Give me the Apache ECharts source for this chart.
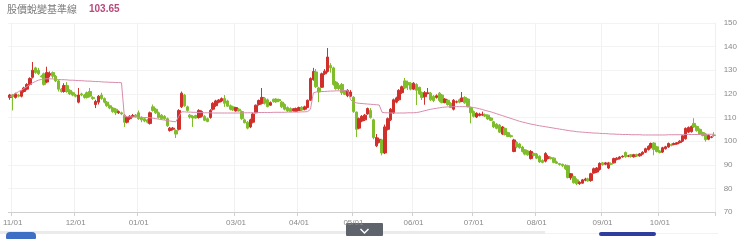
<!DOCTYPE html>
<html>
<head>
<meta charset="utf-8">
<script src="https://cdn.jsdelivr.net/npm/echarts@6/dist/echarts.min.js"></script>
<style>
html,body{margin:0;padding:0;background:#fff;}
#chart{width:740px;height:246px;}
</style>
</head>
<body>
<div id="chart"></div>
<script>
// ---------------- DATA ----------------
const titleText = '股價蛻變基準線';
const latestValue = '103.65';

const dates = [
'2023/10/31',
'2023/11/01','2023/11/02','2023/11/03','2023/11/06','2023/11/07','2023/11/08','2023/11/09','2023/11/10','2023/11/13','2023/11/14','2023/11/15','2023/11/16','2023/11/17','2023/11/20','2023/11/21','2023/11/22','2023/11/23','2023/11/24','2023/11/27','2023/11/28','2023/11/29','2023/11/30',
'2023/12/01','2023/12/04','2023/12/05','2023/12/06','2023/12/07','2023/12/08','2023/12/11','2023/12/12','2023/12/13','2023/12/14','2023/12/15','2023/12/18','2023/12/19','2023/12/20','2023/12/21','2023/12/22','2023/12/23','2023/12/25','2023/12/26','2023/12/27','2023/12/28','2023/12/29',
'2024/01/02','2024/01/03','2024/01/04','2024/01/05','2024/01/08','2024/01/09','2024/01/10','2024/01/11','2024/01/12','2024/01/15','2024/01/16','2024/01/17','2024/01/18','2024/01/19','2024/01/22','2024/01/23','2024/01/24','2024/01/25','2024/01/26','2024/01/29','2024/01/30','2024/01/31',
'2024/02/01','2024/02/02','2024/02/15','2024/02/16','2024/02/19','2024/02/20','2024/02/21','2024/02/22','2024/02/23','2024/02/26','2024/02/27','2024/02/29',
'2024/03/01','2024/03/02','2024/03/04','2024/03/05','2024/03/06','2024/03/07','2024/03/08','2024/03/11','2024/03/12','2024/03/13','2024/03/14','2024/03/15','2024/03/18','2024/03/19','2024/03/20','2024/03/21','2024/03/22','2024/03/25','2024/03/26','2024/03/27','2024/03/28','2024/03/29',
'2024/04/01','2024/04/02','2024/04/03','2024/04/08','2024/04/09','2024/04/10','2024/04/11','2024/04/12','2024/04/15','2024/04/16','2024/04/17','2024/04/18','2024/04/19','2024/04/22','2024/04/23','2024/04/24','2024/04/25','2024/04/26','2024/04/29',
'2024/05/02','2024/05/03','2024/05/06','2024/05/07','2024/05/08','2024/05/09','2024/05/10','2024/05/13','2024/05/14','2024/05/15','2024/05/16','2024/05/17','2024/05/20','2024/05/21','2024/05/22','2024/05/23','2024/05/24','2024/05/27','2024/05/28','2024/05/29','2024/05/30',
'2024/06/03','2024/06/04','2024/06/05','2024/06/06','2024/06/07','2024/06/08','2024/06/10','2024/06/11','2024/06/12','2024/06/13','2024/06/14','2024/06/17','2024/06/18','2024/06/19','2024/06/20','2024/06/21','2024/06/24','2024/06/25','2024/06/26','2024/06/27','2024/06/28',
'2024/07/01','2024/07/02','2024/07/03','2024/07/04','2024/07/05','2024/07/08','2024/07/09','2024/07/10','2024/07/11','2024/07/12','2024/07/15','2024/07/16','2024/07/17','2024/07/18','2024/07/19','2024/07/22','2024/07/23','2024/07/24','2024/07/26','2024/07/29','2024/07/30','2024/07/31',
'2024/08/01','2024/08/02','2024/08/03','2024/08/05','2024/08/06','2024/08/07','2024/08/08','2024/08/09','2024/08/12','2024/08/13','2024/08/14','2024/08/15','2024/08/16','2024/08/19','2024/08/20','2024/08/21','2024/08/22','2024/08/23','2024/08/26','2024/08/27','2024/08/28','2024/08/29','2024/08/30',
'2024/09/02','2024/09/03','2024/09/04','2024/09/05','2024/09/06','2024/09/09','2024/09/10','2024/09/11','2024/09/12','2024/09/13','2024/09/16','2024/09/18','2024/09/19','2024/09/20','2024/09/23','2024/09/24','2024/09/25','2024/09/26','2024/09/27','2024/09/30',
'2024/10/01','2024/10/02','2024/10/04','2024/10/07','2024/10/08','2024/10/09','2024/10/11','2024/10/14','2024/10/15','2024/10/16','2024/10/17','2024/10/18','2024/10/21','2024/10/22','2024/10/23','2024/10/24','2024/10/25','2024/10/28','2024/10/29','2024/10/30'
];

const openPrices = [
118.5,119.5,118.5,119.5,119,121,122,124,127,131,
130,127.5,128.5,125,128,129,127.5,125.5,122,121,
123.5,121.5,120.5,119.5,116.5,120,119.5,120.5,121,118.5,
115.5,116.5,119.5,118,116.5,115,114,113.5,112,112,
111,108,109.5,110.5,111,112,110,109.5,109,107.5,
114.5,113.5,112,111,110.5,109.5,104.5,105,104.5,105,
114.5,119.5,114.5,111,110.5,110.8,110,110.5,110.5,109.5,
110,113.5,115,116.5,117,118,117,115,114.5,112.8,
113.5,112.5,109,108,106,108,112,115.5,116,118.2,
117.5,115.2,117.7,117.8,117.6,116.5,115.5,114.2,113.8,112.8,
112.6,113,114.3,113.5,114.2,117.3,126,129.3,122.5,122.8,
128.5,129.5,132,131,125,123.5,124,121,119.2,119,
118.6,112.3,105.5,108.5,109,111.5,113,109,98,99.5,
100.5,95,105,109,112,116.5,117.5,120.5,125.5,124.8,
124.5,122,124,122.8,120.5,118.8,120.2,120.3,119,118.5,
120.3,119.5,116.3,117.3,116,113.5,116.5,117.5,116.8,118.5,
117.8,114.2,112.5,110.2,110.8,111,111.2,111,109.8,108.2,
107.2,106.8,103,105.4,103.6,102.3,95.6,99.5,98.8,97.5,
96.3,95.8,92.6,94.8,94.5,93.6,91.8,91.5,92.6,93,
92.8,91.2,90.5,90.2,89.8,89.6,84.5,85,83.6,82,
82.2,83.4,84,83.3,86.5,86.9,88,90.8,90.2,88.6,
90.5,90.8,92.3,92.6,93.3,95.2,93.6,94.2,93.4,94.3,
93.8,94.5,95.3,96.4,97.2,99.2,97.6,95.8,95.4,96.8,
97.5,98.6,98.6,98.8,99.4,100,101,103.8,104,107.5,
106.2,105,103.6,103,100.8,101.6,102.6
];

const closePrices = [
119.5,118.8,120,119,121,122.5,124,126.5,130,129,
128.5,127.2,124,129,128.5,127.5,125.5,122,121,123.5,
121,120,119.5,119,119.5,119.5,118.5,118.5,119,118,
116.8,119,118,116.5,115,114,112.5,112,112.5,111.5,
108,110,110.5,110.8,110.5,109.5,109,108.5,108,112,
113,112,110,109.5,109.5,106.5,105.5,105.5,103,113,
120.3,115,113,110.2,109.8,109.8,113,112.5,108.8,108.3,
113,116,117,117.4,118,116,114.8,113.5,113.2,114.2,
112.8,109.5,107.8,105.5,109,111.5,115.2,117.2,118.5,116,
114.6,116.3,116.8,116.6,117,114.5,113.5,112.8,112.5,113.7,
113.8,114.2,113.2,114.5,117.3,126.5,129.5,123,120.8,128.5,
129.6,135.6,131,124,122.2,122.3,120.5,119.8,121.5,120.8,
112.5,105,109.5,110.5,111,113.8,110,101.5,101.5,100.8,
95,106,109.5,113.5,117.5,118.3,121.5,123,122.5,123.8,
122,124.5,121.5,120,118.5,120.5,120.4,117.5,117.2,119.2,
117.2,116.3,117.8,115.5,114.2,117.3,116.7,116.5,118.3,116.2,
114.6,112,110.5,111.8,111.5,111.4,110.6,109.4,108.8,106,
105.4,103.8,106,102.8,102,101.9,100.5,97.5,97.2,95.6,
94.5,94.2,95.6,94,92.8,91.2,91,94.8,93.4,92.6,
91,90.6,90.1,89.6,88.3,84.6,86.2,82.4,82,82.6,
83.6,84,83.2,86.2,88.3,88.6,90.6,90,90.8,90.8,
90.2,92.6,92.8,93.3,93.6,93.4,93.8,93.5,94.2,93.7,
94.6,95.3,96.8,97.8,99,96.5,95.6,95.2,97.2,97.6,
99,98.2,99,99.3,100,102.3,105.4,105.8,106.2,106,
104.4,103,102.4,100.6,102.4,101.8,102.4
];

const lowPrices = [
117.5,113,118,118.5,118.5,120.5,121.5,123.5,126.5,128.5,
128,127,123.5,124.5,127,126.5,125,121,120.5,120.5,
120.5,119.5,119,118.5,116,119,118,118,118.5,117.5,
114,115.5,117.5,116,114.5,113.5,112,111,111.5,111,
106,107.5,109,110,110,109,108,108,107.5,107,
112.5,111.5,109.5,109,109,106,104,104.5,101.3,104.5,
114,114.5,112.5,109.5,106,109.5,109.5,110,108.5,108,
109.5,113,114.5,116,116.5,114.5,114.5,113,112.8,112.5,
112.5,109,107.5,105,105.5,107.5,111.8,115,115.5,115.5,
114.3,115,116.3,116.2,116.5,114,113,112.3,112.2,112.5,
112.4,112.8,112.8,113,114,117,125.6,122.5,116.5,122.5,
128,129,129,123.5,121.8,121.6,119.5,119.5,118.6,118.6,
112,101.7,105,108,108.5,111.2,109.5,100.8,97.5,99,
94,94.5,104.5,108.5,111.5,116,117,120,122,121.6,
121.5,121.6,115.3,119.5,117.4,115.4,119.8,117,116.5,118,
116.5,116,116,115,114,113,116,116,116.5,115.8,
114.3,107.5,110,109.8,110.5,110.6,110.2,109,108.5,105.5,
105,103.4,102.6,102.4,101.7,101.5,95.3,97,96.8,95.2,
94,93.8,92.2,93.5,92.4,90.8,90.6,91,92.2,92.2,
90.6,90.3,89.6,89,87.8,84.2,83.6,82,81.4,81.5,
82,83,82.8,82.8,86.2,86.5,87.5,89.6,89.8,88.2,
89.8,90.5,91.8,92.2,93,93,93.2,93,93,93.3,
93.4,94.2,95,96,96.8,94,95.2,94.8,95,96.4,
97.2,97.8,98.2,98.5,99,99.6,100.6,103.4,103.6,105.6,
104,102.6,102,99.8,100.4,101.2,101.8
];

const highPrices = [
120,120,120.5,120,121.5,123,124.5,127,133.5,131.5,
131,128,129,131.5,129.5,129.5,128,126,122.5,124.5,
125,122,121,120,122.5,120.5,120,121,122.5,119,
117.5,119.5,120.5,118.5,117,115.5,114.5,114,113,112.5,
111.5,110.5,111,111.5,111.5,113,110.5,110,109.5,112.5,
115.5,114,112.5,111.5,111,110,106,106,105,113.5,
121,120,115,111.5,111,111.2,113.5,113,111,110,
113.5,116.5,117.5,117.8,118.5,119.5,117.5,115.5,115,114.5,
114,113,109.5,108.5,109.5,112,115.5,117.6,122.5,118.6,
118,116.8,118,118.2,118,117,116,114.7,114.3,114,
114.2,114.6,114.8,115,117.6,127,131,130.5,123,129,
130.5,139.4,133,131.5,125.5,124.6,124.6,121.5,122,121.6,
119,112.5,110,111,111.5,114.2,114,109.5,103,101.5,
101,107,110,114,118,118.8,122,123.5,126.7,125.6,
125,125,124.5,123,121,121.2,122.5,120.8,119.5,119.8,
120.8,120,118.2,117.8,116.5,117.8,117.2,118,120.8,119,
118.2,114.6,113,112.2,112,112.5,111.7,111.3,110.2,108.5,
107.6,107.2,106.4,105.8,104,102.8,101,100,99.3,98,
96.6,96.2,96.2,95.2,95,94,92.3,95.3,94.2,93.5,
93.2,91.7,90.8,90.5,90.2,90,86.5,85.4,84.3,83,
84,84.5,84.5,86.6,88.8,89,91,91.2,91.2,91.2,
91,93,93.2,93.6,94,95.6,94.2,94.5,94.6,94.7,
95,95.7,97.2,98.2,99.4,99.5,98,96.2,97.6,98,
99.4,99,99.4,99.6,100.4,102.6,105.8,106.2,106.6,109.7,
106.6,105.4,104,103.4,102.8,102.2,103.8
];

const baseline = [
118.8,119.5,120.2,120.9,121.6,122.3,123.1,123.9,124.7,125.3,125.8,
126.1,126.3,126.4,126.4,126.3,126.2,
126.1,126.0,126.0,125.9,125.8,125.8,125.7,125.6,125.6,125.5,125.4,125.4,125.3,125.2,125.2,125.1,125.0,125.0,124.9,124.9,124.8,124.8,124.7,
110.4,110.3,110.3,110.2,110.2,110.1,110.1,110.0,110.0,
109.9,109.7,109.5,109.3,109.1,108.9,108.7,108.5,108.3,108.2,
110.5,112.4,
112.4,112.3,112.3,112.2,112.2,112.1,112.1,112.0,112.0,112.0,111.9,111.9,111.9,111.9,111.9,111.9,111.9,111.9,
111.9,111.9,111.9,112.0,112.0,112.0,112.0,112.0,112.1,112.1,112.1,112.1,112.1,112.2,112.2,112.2,112.2,112.2,112.3,112.3,112.3,112.3,112.3,112.4,112.4,112.5,
113.5,120.4,
120.8,120.9,121.0,121.0,121.1,121.2,121.2,121.3,121.3,121.4,121.4,121.5,
117.5,116.5,
116.2,116.0,115.9,115.8,115.7,115.6,115.5,115.4,115.3,
112.2,
112.0,112.0,111.9,111.9,111.9,111.9,111.9,111.9,112.0,112.0,112.0,112.1,
112.3,112.6,112.9,113.2,113.5,113.7,113.9,114.1,114.3,
114.4,114.5,114.5,114.6,114.6,114.6,114.6,114.6,114.5,114.4,
114.2,114.0,113.7,113.4,113.0,112.7,112.4,112.0,111.6,111.2,110.8,110.4,110.0,109.6,109.2,108.8,108.4,108.1,107.8,107.5,107.2,107.0,106.7,106.5,106.3,106.1,105.9,105.7,105.5,105.3,105.1,104.9,104.7,104.5,104.3,104.2,104.0,103.9,103.8,
103.7,103.6,103.5,103.4,103.4,103.3,103.2,103.2,103.1,103.0,103.0,102.9,102.9,102.8,102.8,102.8,102.7,102.7,102.7,102.7,102.6,102.6,
102.6,102.6,102.6,102.6,102.6,102.6,102.6,102.7,102.7,102.7,102.7,102.7,102.7,102.8,102.8,102.8,102.8,102.8,102.8,102.9,102.9,102.9,102.9,102.9
];

const yMin = 70, yMax = 150, yStep = 10;
const skipMonths = ['02'];

// ---------------- CHART ----------------
const FONT = '"Liberation Sans", Arial, "Noto Sans CJK TC", sans-serif';
const RED = '#d0302c', GREEN = '#80bd2c';
const candles = dates.map((d, i) => [openPrices[i], closePrices[i], lowPrices[i], highPrices[i]]);
const monthOf = v => v.slice(5, 7);
const isMonthStart = (index, value) =>
  index > 0 && monthOf(value) !== monthOf(dates[index - 1]) && skipMonths.indexOf(monthOf(value)) < 0;

const chart = echarts.init(document.getElementById('chart'), null, {renderer: 'canvas'});
chart.setOption({
  animation: false,
  textStyle: {fontFamily: FONT},
  grid: {left: 0, right: 22, top: 23, bottom: 34},
  xAxis: {
    type: 'category',
    data: dates,
    boundaryGap: true,
    axisLine: {show: true, lineStyle: {color: '#cfcfcf'}},
    axisTick: {show: true, interval: isMonthStart, length: 4, lineStyle: {color: '#cfcfcf'}},
    axisLabel: {
      interval: isMonthStart, fontSize: 8, color: '#8a8a8a', margin: 7,
      fontFamily: FONT,
      formatter: v => monthOf(v) + '/01'
    },
    splitLine: {show: true, interval: isMonthStart, lineStyle: {color: '#f1f1f1'}}
  },
  yAxis: {
    type: 'value',
    position: 'right',
    min: yMin, max: yMax, interval: yStep,
    axisLine: {show: true, lineStyle: {color: '#efefef'}},
    axisTick: {show: false},
    axisLabel: {fontSize: 8, color: '#8a8a8a', margin: 8, fontFamily: FONT},
    splitLine: {show: true, lineStyle: {color: '#f3f3f3'}}
  },
  series: [
    {
      type: 'candlestick',
      data: candles,
      barWidth: 3,
      itemStyle: {color: RED, color0: GREEN, borderColor: RED, borderColor0: GREEN, borderWidth: 1}
    },
    {
      type: 'line',
      data: baseline,
      symbol: 'none',
      z: 5,
      lineStyle: {color: '#d98aab', width: 1}
    }
  ],
  graphic: [
    {type: 'text', left: 7, top: 4, style: {text: titleText, fontSize: 10, fill: '#7a7a7a', fontFamily: '"Noto Sans CJK TC", sans-serif'}},
    {type: 'text', left: 89, top: 4, style: {text: latestValue, fontSize: 10, fontWeight: 'bold', fill: '#b84a7c', fontFamily: FONT}},
    {type: 'rect', shape: {x: 0, y: 231, width: 545, height: 3}, style: {fill: '#ebebeb'}},
    {type: 'rect', shape: {x: 545, y: 233, width: 173, height: 1}, style: {fill: '#f2f2f2'}},
    {type: 'rect', shape: {x: 6, y: 232, width: 30, height: 7, r: [4, 4, 1, 1]}, style: {fill: '#3f6fc5'}},
    {type: 'rect', shape: {x: 346, y: 223, width: 37, height: 13, r: 1}, style: {fill: '#5e636c'}},
    {type: 'polyline', shape: {points: [[360.5, 229], [364.5, 233], [368.5, 229]]}, style: {stroke: '#ffffff', lineWidth: 1.5, fill: null}},
    {type: 'rect', shape: {x: 599, y: 232, width: 57, height: 4, r: 2}, style: {fill: '#2f3e9e'}}
  ]
});
</script>
</body>
</html>
